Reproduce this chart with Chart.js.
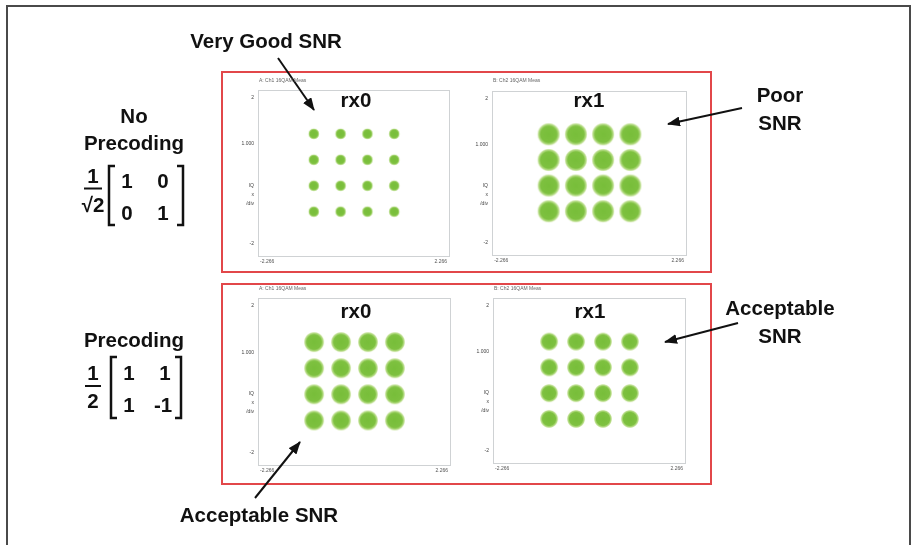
<!DOCTYPE html>
<html>
<head>
<meta charset="utf-8">
<script src="https://cdn.jsdelivr.net/npm/chart.js@4/dist/chart.umd.min.js"></script>
<style>
  html, body { margin: 0; padding: 0; background: #fff; }
  body { width: 912px; height: 545px; position: relative; overflow: hidden;
         font-family: "Liberation Sans", Arial, sans-serif; }
  canvas.iq { position: absolute; }
  svg#notes { position: absolute; left: 0; top: 0; pointer-events: none; }
  .big { font-weight: bold; font-size: 20.5px; fill: #111; }
  .tiny { font-size: 5px; fill: #666; }
</style>
</head>
<body>

<canvas class="iq" id="p0"></canvas>
<canvas class="iq" id="p1"></canvas>
<canvas class="iq" id="p2"></canvas>
<canvas class="iq" id="p3"></canvas>

<svg id="notes" width="912" height="545" viewBox="0 0 912 545">
  <defs>
    <marker id="ah" markerUnits="userSpaceOnUse" markerWidth="13" markerHeight="10"
            refX="12" refY="5" orient="auto">
      <path d="M0,0 L13,5 L0,10 z" fill="#111"/>
    </marker>
  </defs>

  <!-- outer frame -->
  <path d="M7,560 L7,6 L910,6 L910,560" fill="none" stroke="#4a4a4a" stroke-width="2"/>

  <!-- red group boxes -->
  <rect x="222" y="72" width="489" height="200" fill="none" stroke="#e2474a" stroke-width="2"/>
  <rect x="222" y="284" width="489" height="200" fill="none" stroke="#e2474a" stroke-width="2"/>

  <!-- receiver titles -->
  <text class="big" x="356" y="107" text-anchor="middle">rx0</text>
  <text class="big" x="589" y="107" text-anchor="middle">rx1</text>
  <text class="big" x="356" y="318" text-anchor="middle">rx0</text>
  <text class="big" x="590" y="318" text-anchor="middle">rx1</text>

  <!-- SNR notes -->
  <text class="big" x="266" y="48" text-anchor="middle">Very Good SNR</text>
  <line x1="278" y1="58" x2="314" y2="110" stroke="#111" stroke-width="2" marker-end="url(#ah)"/>

  <text class="big" x="780" y="102" text-anchor="middle">Poor</text>
  <text class="big" x="780" y="130" text-anchor="middle">SNR</text>
  <line x1="742" y1="108" x2="668" y2="124" stroke="#111" stroke-width="2" marker-end="url(#ah)"/>

  <text class="big" x="780" y="315" text-anchor="middle">Acceptable</text>
  <text class="big" x="780" y="343" text-anchor="middle">SNR</text>
  <line x1="738" y1="323" x2="665" y2="342" stroke="#111" stroke-width="2" marker-end="url(#ah)"/>

  <text class="big" x="259" y="522" text-anchor="middle">Acceptable SNR</text>
  <line x1="255" y1="498" x2="300" y2="442" stroke="#111" stroke-width="2" marker-end="url(#ah)"/>

  <!-- no precoding: 1/sqrt(2) [1 0; 0 1] -->
  <text class="big" x="134" y="123" text-anchor="middle">No</text>
  <text class="big" x="134" y="150" text-anchor="middle">Precoding</text>
  <text class="big" x="93" y="183" text-anchor="middle">1</text>
  <line x1="84" y1="188.5" x2="102" y2="188.5" stroke="#111" stroke-width="2"/>
  <text class="big" x="93" y="212" text-anchor="middle">√2</text>
  <path d="M115,166 L109,166 L109,225 L115,225" fill="none" stroke="#111" stroke-width="2.5"/>
  <path d="M177,166 L183,166 L183,225 L177,225" fill="none" stroke="#111" stroke-width="2.5"/>
  <text class="big" x="127" y="188" text-anchor="middle">1</text>
  <text class="big" x="163" y="188" text-anchor="middle">0</text>
  <text class="big" x="127" y="220" text-anchor="middle">0</text>
  <text class="big" x="163" y="220" text-anchor="middle">1</text>

  <!-- precoding: 1/2 [1 1; 1 -1] -->
  <text class="big" x="134" y="347" text-anchor="middle">Precoding</text>
  <text class="big" x="93" y="380" text-anchor="middle">1</text>
  <line x1="85" y1="386" x2="101" y2="386" stroke="#111" stroke-width="2"/>
  <text class="big" x="93" y="408" text-anchor="middle">2</text>
  <path d="M117,357 L111,357 L111,418 L117,418" fill="none" stroke="#111" stroke-width="2.5"/>
  <path d="M175,357 L181,357 L181,418 L175,418" fill="none" stroke="#111" stroke-width="2.5"/>
  <text class="big" x="129" y="380" text-anchor="middle">1</text>
  <text class="big" x="165" y="380" text-anchor="middle">1</text>
  <text class="big" x="129" y="412" text-anchor="middle">1</text>
  <text class="big" x="163" y="412" text-anchor="middle">-1</text>

  <!-- measurement titles above each IQ plot -->
  <text class="tiny" x="259" y="82">A: Ch1 16QAM Meas</text>
  <text class="tiny" x="493" y="82">B: Ch2 16QAM Meas</text>
  <text class="tiny" x="259" y="290">A: Ch1 16QAM Meas</text>
  <text class="tiny" x="494" y="290">B: Ch2 16QAM Meas</text>
</svg>

<script>
// 16-QAM I/Q levels (unit average power)
const qamLevels = [-0.949, -0.316, 0.316, 0.949];

// receivers shown in each panel (top row: no precoding, bottom row: precoding)
const panelNames = ['rx0', 'rx1', 'rx0', 'rx1'];

// noise spread of each received cluster, in I/Q units
const clusterSpread = [0.115, 0.25, 0.225, 0.20];

// axis range of the analyser display
const xRange = [-2.266, 2.266];
const yRange = [-2.03, 2.03];

// tick positions and labels of the analyser grid
const yTickValues = [1.83, 0.70, -0.53, -1.73];
const yTickLabels = ['2', '1.000', ['IQ', 'x', '/div'], '-2'];
const xTickValues = [-2.05, 2.05];
const xTickLabels = ['-2.266', '2.266'];

// plot frame of each panel on the page: left, top, width, height
const frames = [
  [258, 85, 193, 171],
  [492, 86, 196, 169],
  [258, 293, 194, 172],
  [493, 293, 194, 170]
];

const AXIS_W = 30, AXIS_H = 12, PAD = 4;

// constellation points: every I level paired with every Q level
const constellation = [];
qamLevels.forEach(q => qamLevels.forEach(i => constellation.push({ x: i, y: -q })));

// soft round marker sized to the cluster spread
function cloudSprite(rPx) {
  const size = Math.ceil(rPx * 2 + 4);
  const c = document.createElement('canvas');
  c.width = c.height = size;
  const g = c.getContext('2d');
  const m = size / 2;
  const grad = g.createRadialGradient(m, m, 0, m, m, rPx + 0.8);
  grad.addColorStop(0, 'rgba(120,190,58,1)');
  grad.addColorStop(0.7, 'rgba(126,193,64,1)');
  grad.addColorStop(0.88, 'rgba(148,203,78,0.65)');
  grad.addColorStop(1, 'rgba(180,215,100,0)');
  g.fillStyle = grad;
  g.beginPath();
  g.arc(m, m, rPx + 0.8, 0, Math.PI * 2);
  g.fill();
  return c;
}

const frameBox = {
  id: 'frameBox',
  afterDraw(chart) {
    const a = chart.chartArea, ctx = chart.ctx;
    ctx.save();
    ctx.strokeStyle = '#cfd2d4';
    ctx.lineWidth = 1;
    ctx.strokeRect(Math.round(a.left) + 0.5, Math.round(a.top) + 0.5,
                   Math.round(a.right - a.left) - 1, Math.round(a.bottom - a.top) - 1);
    ctx.restore();
  }
};

panelNames.forEach((name, k) => {
  const [fx, fy, fw, fh] = frames[k];
  const cv = document.getElementById('p' + k);
  const W = fw + AXIS_W + PAD, H = fh + AXIS_H + PAD;
  cv.width = W; cv.height = H;
  cv.style.left = (fx - AXIS_W) + 'px';
  cv.style.top = (fy - PAD) + 'px';
  cv.style.width = W + 'px'; cv.style.height = H + 'px';

  // plot width equals the frame width, so pixels per I/Q unit follow from it
  const pxPerUnit = fw / (xRange[1] - xRange[0]);
  const sprite = cloudSprite(clusterSpread[k] * pxPerUnit);

  new Chart(cv, {
    type: 'scatter',
    data: {
      datasets: [{
        label: name,
        data: constellation,
        pointRadius: 3,
        pointStyle: sprite
      }]
    },
    options: {
      responsive: false,
      animation: false,
      devicePixelRatio: 1,
      layout: { padding: { left: 0, top: PAD, right: PAD, bottom: 0 } },
      plugins: { legend: { display: false }, tooltip: { enabled: false } },
      scales: {
        x: {
          type: 'linear', min: xRange[0], max: xRange[1],
          grid: { display: false, drawTicks: false },
          border: { display: false },
          afterBuildTicks: (ax) => { ax.ticks = xTickValues.map(v => ({ value: v })); },
          afterFit: (ax) => { ax.height = AXIS_H; },
          ticks: {
            padding: 3, maxRotation: 0, autoSkip: false,
            color: '#555', font: { size: 5, family: 'Liberation Sans' },
            callback: (v, i) => xTickLabels[i]
          }
        },
        y: {
          type: 'linear', min: yRange[0], max: yRange[1],
          grid: { display: false, drawTicks: false },
          border: { display: false },
          afterBuildTicks: (ax) => { ax.ticks = yTickValues.map(v => ({ value: v })); },
          afterFit: (ax) => { ax.width = AXIS_W; },
          ticks: {
            padding: 4, autoSkip: false,
            color: '#444', font: { size: 5, family: 'Liberation Sans', lineHeight: 1.8 },
            callback: (v, i) => yTickLabels[i]
          }
        }
      }
    },
    plugins: [frameBox]
  });
});
</script>
</body>
</html>
